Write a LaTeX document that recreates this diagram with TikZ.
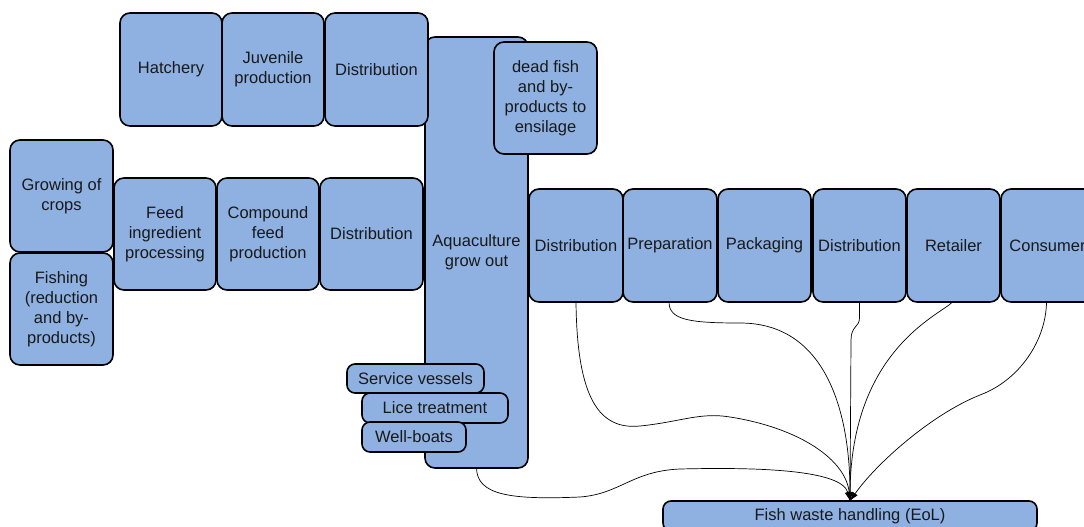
\documentclass[tikz,border=0pt]{standalone}
\usepackage{fontspec}
\setmainfont{Liberation Sans}
\usetikzlibrary{arrows.meta}
\definecolor{boxfill}{RGB}{142,177,226}
\definecolor{txt}{RGB}{25,25,25}
\tikzset{
  box/.style={draw=black, fill=boxfill, line width=1.6pt, rounded corners=10pt,
    inner sep=0pt, outer sep=0pt, align=center, text=txt,
    font=\fontsize{16.5}{20}\selectfont},
  smallbox/.style={box, rounded corners=8pt},
  flow/.style={draw=black, line width=0.7pt, -{Latex[length=9pt,width=6pt]}},
}
\begin{document}
\begin{tikzpicture}[x=1pt,y=-1pt]
\useasboundingbox (0,0) rectangle (1084,527);
\clip (0,0) rectangle (1084,527);
% aquaculture column
\node[box, minimum width=103pt, minimum height=431pt] (aq) at (476.5,252.5) {Aquaculture\\grow out};
% top row
\node[box, minimum width=102pt, minimum height=113pt] (hat) at (171,69.5) {Hatchery};
\node[box, minimum width=102pt, minimum height=113pt] (juv) at (273,69.5) {Juvenile\\production};
\node[box, minimum width=103pt, minimum height=113pt] (dtop) at (376.5,69.5) {Distribution};
\node[box, minimum width=103pt, minimum height=112pt] (dead) at (545.5,98) {dead fish\\and by-\\products to\\ensilage};
% feed row
\node[box, minimum width=103pt, minimum height=112pt] (crop) at (61.5,196) {Growing of\\crops};
\node[box, minimum width=103pt, minimum height=112pt] (fish) at (61.5,309) {Fishing\\(reduction\\and by-\\products)};
\node[box, minimum width=102pt, minimum height=112pt] (ing) at (165,234) {Feed\\ingredient\\processing};
\node[box, minimum width=102pt, minimum height=112pt] (comp) at (268,234) {Compound\\feed\\production};
\node[box, minimum width=103pt, minimum height=112pt] (dfeed) at (371.5,234) {Distribution};
% service boxes
\node[smallbox, minimum width=137pt, minimum height=29pt] (serv) at (415.5,378.5) {Service vessels};
\node[smallbox, minimum width=146pt, minimum height=30pt] (lice) at (435,408) {Lice treatment};
\node[smallbox, minimum width=104pt, minimum height=30pt] (well) at (414,437) {Well-boats};
% right row
\node[box, minimum width=94pt, minimum height=113pt] (d3) at (576,245.5) {Distribution};
\node[box, minimum width=94pt, minimum height=113pt] (prep) at (670,245.5) {Preparation};
\node[box, minimum width=93pt, minimum height=113pt] (pack) at (764.5,245.5) {Packaging};
\node[box, minimum width=93pt, minimum height=113pt] (d4) at (859.5,245.5) {Distribution};
\node[box, minimum width=93pt, minimum height=113pt] (ret) at (953.5,245.5) {Retailer};
\node[box, minimum width=93pt, minimum height=113pt] (cons) at (1047.5,245.5) {Consumer};
% end of life
\node[smallbox, minimum width=374pt, minimum height=30pt] (fw) at (850,516) {Fish waste handling (EoL)};
% connectors
\draw[flow] (aq.south) .. controls (477,495) and (510,500) .. (580,497)
  .. controls (620,494) and (632,471) .. (680,469)
  .. controls (760,467) and (842,470) .. (fw.north);
\draw[flow] (d3.south) .. controls (577,400) and (600,430) .. (640,426)
  .. controls (680,422) and (700,412) .. (730,417)
  .. controls (800,428) and (846,460) .. (fw.north);
\draw[flow] ([xshift=-1pt]prep.south) .. controls (669,320) and (690,323) .. (740,323)
  .. controls (830,323) and (850,420) .. (fw.north);
\draw[flow] (d4.south) -- (859.5,318) .. controls (859.5,327) and (851,326) .. (851,340) -- (fw.north);
\draw[flow] ([xshift=-1pt]ret.south) .. controls (940,315) and (851,350) .. (fw.north);
\draw[flow] ([xshift=-1pt]cons.south) .. controls (1046,340) and (1020,380) .. (980,395)
  .. controls (930,415) and (875,465) .. (fw.north);
\end{tikzpicture}
\end{document}
